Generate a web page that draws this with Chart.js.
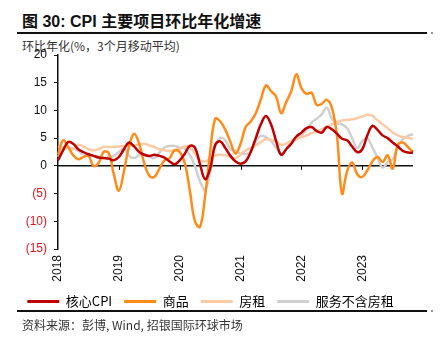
<!DOCTYPE html>
<html>
<head>
<meta charset="utf-8">
<script src="https://cdn.jsdelivr.net/npm/chart.js@4.4.0/dist/chart.umd.min.js"></script>
<style>
  body { margin: 0; background: #fff; font-family: 'Liberation Sans', 'Noto Sans CJK SC', sans-serif; }
  #wrap { position: relative; width: 441px; height: 351px; overflow: hidden; }
  #title { position: absolute; left: 22px; top: 8px; font-size: 16px; font-weight: bold; color: #111; white-space: nowrap; }
  #sub { position: absolute; left: 22px; top: 37px; font-size: 12px; color: #333; white-space: nowrap; font-family: 'Noto Sans CJK SC', sans-serif; }
  .rule { position: absolute; left: 17px; width: 410px; height: 2px; background: #111; }
  .dot { position: absolute; left: 431px; width: 2px; height: 2px; background: #999; }
  #src { position: absolute; left: 22px; top: 316px; font-size: 12px; color: #333; white-space: nowrap; font-family: 'Noto Sans CJK SC', sans-serif; }
  canvas { position: absolute; left: 0; top: 0; }
</style>
</head>
<body>
<div id="wrap">
  <div id="title">图 30: CPI 主要项目环比年化增速</div>
  <div class="rule" style="top:32px"></div>
  <div class="dot" style="top:32px"></div>
  <div id="sub">环比年化(%，3个月移动平均)</div>
  <canvas id="cpiChart" width="441" height="351"></canvas>
  <div class="rule" style="top:310px"></div>
  <div class="dot" style="top:310px"></div>
  <div id="src">资料来源：彭博, Wind, 招银国际环球市场</div>
</div>
<script>
// monthly, Jan 2018 - Nov 2023
var months = [];
for (var y = 2018; y <= 2023; y++) {
  for (var m = 1; m <= 12; m++) {
    if (y == 2023 && m > 11) break;
    months.push(y + '-' + (m < 10 ? '0' + m : m));
  }
}

var coreCPI = [1.0, 2.8, 4.3, 4.0, 3.0, 2.5, 2.1, 1.8, 1.5, 1.4, 1.3, 1.0,
  1.6, 3.0, 4.2, 3.5, 2.5, 2.0, 1.8, 2.0, 1.8, 1.5, 0.8, 0.3,
  1.0, 2.2, 3.6, 3.3, 0.3, -2.4, -0.5, 3.8, 4.4, 3.2, 1.8, 0.8,
  0.4, 0.8, 2.5, 5.0, 7.5, 9.0, 7.5, 4.5, 2.0, 3.0, 4.0, 5.3,
  6.0, 6.8, 7.0, 6.3, 6.0, 7.0, 6.6, 5.8, 4.9, 4.6, 3.5, 2.5,
  3.0, 5.5, 7.2, 6.5, 5.5, 5.0, 4.2, 3.5, 2.7, 2.4, 2.4];

var goods = [2.0, 4.6, 3.4, 1.9, 1.2, 1.6, 1.8, 0.0, 0.5, 2.5, 2.3, -1.5,
  -4.5, -1.0, 3.5, 5.8, 4.0, 0.5, -1.8, -2.0, -0.5, 1.0, 1.4, 2.8,
  2.5, 0.5, -4.5, -10.0, -11.0, -5.5, 2.5, 8.5, 8.0, 6.5, 4.3, 2.2,
  4.0, 7.0, 8.0, 9.5, 12.0, 14.5, 13.5, 12.5, 9.5, 11.5, 13.5, 16.5,
  14.0, 13.0, 13.2, 11.0, 11.2, 11.9, 10.5, 5.5, -5.0, -1.0, 0.6, -1.5,
  -2.0, -0.8, 0.8, 1.6, 0.7, 1.9, -0.5, 3.8, 4.2, 3.4, 2.5];

var rent = [3.4, 3.3, 3.2, 3.0, 3.8, 3.5, 3.0, 2.8, 3.0, 3.4, 3.4, 3.4,
  3.5, 3.6, 3.7, 3.7, 3.8, 4.0, 3.7, 3.4, 3.0, 2.8, 2.7, 2.8,
  3.1, 3.5, 3.4, 2.2, 1.0, 0.8, 1.3, 1.9, 2.0, 1.9, 1.6, 1.4,
  2.0, 2.8, 3.2, 3.7, 4.3, 4.8, 4.7, 4.4, 3.8, 4.0, 4.5, 4.8,
  5.2, 5.5, 5.9, 6.2, 6.6, 7.0, 7.5, 7.9, 8.2, 8.3, 8.4, 8.6,
  8.9, 9.2, 9.0, 8.2, 7.5, 6.8, 6.0, 5.5, 5.2, 5.1, 4.8];

var servExRent = [1.6, 3.0, 3.3, 3.1, 2.7, 2.1, 1.9, 1.8, 1.6, 1.4, 1.5, 1.8,
  2.5, 3.1, 1.8, 1.4, 1.9, 2.0, 1.7, 1.4, 2.4, 3.3, 3.6, 3.6,
  3.3, 3.1, 2.0, 0.0, -2.8, -4.3, -1.0, 3.5, 5.0, 4.6, 3.0, 2.7,
  2.2, 2.1, 2.6, 4.5, 5.4, 5.2, 4.5, 3.3, 2.1, 3.0, 4.4, 5.0,
  5.6, 6.5, 7.8, 8.5, 9.3, 10.5, 8.5, 7.7, 7.5, 6.8, 5.0, 3.2,
  4.5, 5.0, 3.3, 1.5, -0.3, 0.6, 1.2, 3.5, 4.8, 5.4, 5.7];

var seriesNames = ['核心CPI', '商品', '房租', '服务不含房租'];
var seriesColors = ['#C00000', '#FF8C1A', '#FBCBA6', '#D0D0D0'];
var yTicks = [-15, -10, -5, 0, 5, 10, 15, 20];

// axis at zero with year tick marks
var zeroAxis = {
  id: 'zeroAxis',
  beforeDatasetsDraw: function (chart) {
    var ctx = chart.ctx;
    var xs = chart.scales.x, ys = chart.scales.y;
    var y0 = ys.getPixelForValue(0);
    ctx.save();
    ctx.strokeStyle = '#111';
    ctx.lineWidth = 1.5;
    ctx.beginPath();
    ctx.moveTo(chart.chartArea.left, y0);
    ctx.lineTo(chart.chartArea.right, y0);
    ctx.stroke();
    ctx.lineWidth = 1;
    for (var i = 12; i < months.length; i += 12) {
      var x = Math.round(xs.getPixelForValue(i)) + 0.5;
      ctx.beginPath();
      ctx.moveTo(x, y0);
      ctx.lineTo(x, y0 + 4);
      ctx.stroke();
    }
    ctx.restore();
  }
};

var data = [coreCPI, goods, rent, servExRent];
var datasets = data.map(function (d, k) {
  return {
    label: seriesNames[k],
    data: d,
    borderColor: seriesColors[k],
    backgroundColor: seriesColors[k],
    borderWidth: 2.5,
    pointRadius: 0,
    tension: 0.4,
    fill: false
  };
});

var ctx = document.getElementById('cpiChart').getContext('2d');
var cpiChart = new Chart(ctx, {
  type: 'line',
  data: { labels: months, datasets: datasets },
  plugins: [zeroAxis],
  options: {
    responsive: false,
    animation: false,
    layout: { padding: { top: 55, left: 8, right: 28, bottom: 33 } },
    font: { family: "'Liberation Sans', 'Noto Sans CJK SC', sans-serif" },
    plugins: {
      tooltip: { enabled: false },
      legend: {
        position: 'bottom',
        labels: {
          boxWidth: 32,
          boxHeight: 3,
          padding: 12,
          color: '#222',
          font: { size: 13, family: "'Noto Sans CJK SC', 'Liberation Sans', sans-serif" },
          generateLabels: function (chart) {
            return chart.data.datasets.map(function (ds, i) {
              return { text: ds.label, fillStyle: ds.borderColor, strokeStyle: ds.borderColor, lineWidth: 0, datasetIndex: i };
            });
          }
        }
      }
    },
    scales: {
      x: {
        type: 'category',
        offset: false,
        grid: { display: false, drawTicks: false },
        border: { display: false },
        ticks: {
          autoSkip: false,
          maxRotation: 90,
          minRotation: 90,
          padding: 6,
          color: '#111',
          font: { size: 12 },
          callback: function (v, i) {
            return i % 12 == 0 ? months[i].slice(0, 4) : '';
          }
        },
        afterFit: function (scale) { scale.height = 34; }
      },
      y: {
        min: -15,
        max: 20,
        afterBuildTicks: function (scale) {
          scale.ticks = yTicks.map(function (v) { return { value: v }; });
        },
        grid: { drawOnChartArea: false, tickLength: 4, color: '#111' },
        border: { display: true, color: '#111', width: 1.5 },
        ticks: {
          padding: 7,
          font: { size: 12 },
          color: function (c) { return c.tick.value < 0 ? '#E8141B' : '#111'; },
          callback: function (v) { return v < 0 ? '(' + (-v) + ')' : v; }
        },
        afterFit: function (scale) { scale.width = 50; }
      }
    }
  }
});
</script>
</body>
</html>
